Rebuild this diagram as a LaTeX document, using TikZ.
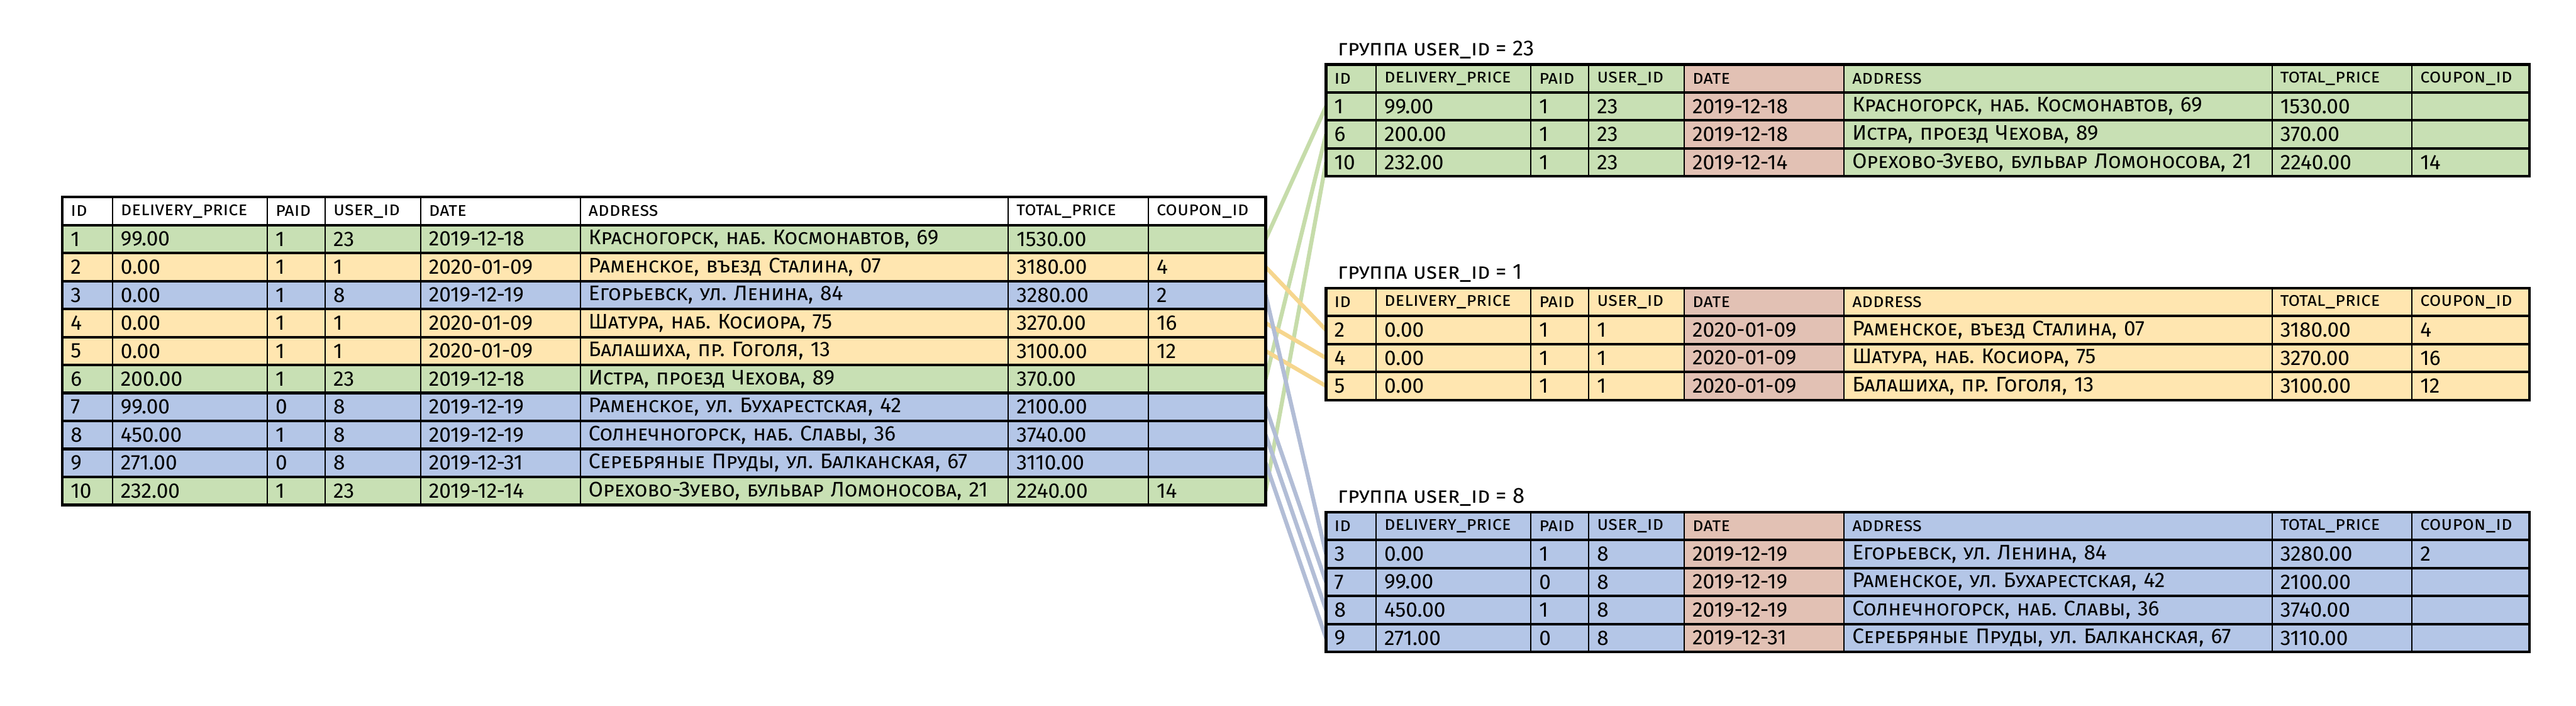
\documentclass[tikz,border=0pt]{standalone}
\usepackage{fontspec}
\setmainfont{Fira Sans}[Letters=SmallCaps]
\usetikzlibrary{positioning,backgrounds}
\frenchspacing

\definecolor{grn}{HTML}{C8E0B4}
\definecolor{ylw}{HTML}{FFE6B0}
\definecolor{blu}{HTML}{B4C6E7}
\definecolor{pnk}{HTML}{E2C1B4}
\definecolor{grnln}{HTML}{C6DCAA}
\definecolor{ylwln}{HTML}{F6D68E}
\definecolor{bluln}{HTML}{B2BDD6}

\newcommand{\headsize}{\fontsize{13pt}{15pt}\selectfont}

\tikzset{
  cell/.style={draw, line width=0.9pt, outer sep=0pt, inner xsep=0.2cm, inner ysep=0pt,
    minimum height=0.677cm, align=left, fill=\rowcolor, font=\fontsize{14.5pt}{16pt}\selectfont},
  rowline/.style={line width=1.8pt},
  frame/.style={line width=1.8pt},
  link/.style={line width=2.8pt},
  title/.style={anchor=west, inner sep=0pt, font=\fontsize{15pt}{17pt}\selectfont}
}

% one table row: name, top-left point, fill colour, then the 8 fields
\def\datecolor{\rowcolor}
\newcommand{\tabrow}[3]{\def\rowname{#1}\def\rowat{#2}\def\rowcolor{#3}\tabcells}
\newcommand{\tabcells}[8]{%
  \node[cell, text width=0.81cm, anchor=north west] (\rowname-1) at (\rowat) {#1};
  \node[cell, text width=3.35cm, right=0pt of \rowname-1] (\rowname-2) {#2};
  \node[cell, text width=1.00cm, right=0pt of \rowname-2] (\rowname-3) {#3};
  \node[cell, text width=1.91cm, right=0pt of \rowname-3] (\rowname-4) {#4};
  \node[cell, fill=\datecolor, text width=3.47cm, right=0pt of \rowname-4] (\rowname-5) {#5};
  \node[cell, text width=9.96cm, right=0pt of \rowname-5] (\rowname-6) {#6};
  \node[cell, text width=2.99cm, right=0pt of \rowname-6] (\rowname-7) {#7};
  \node[cell, text width=2.44cm, right=0pt of \rowname-7] (\rowname-8) {#8};
  \draw[rowline] (\rowname-1.north west) -- (\rowname-8.north east);
}
\newcommand{\headrow}[3]{\tabrow{#1}{#2}{#3}{\headsize id}{\headsize delivery\_price}{\headsize paid}{\headsize user\_id}{\headsize date}{\headsize address}{\headsize total\_price}{\headsize coupon\_id}}

\begin{document}
\begin{tikzpicture}
\useasboundingbox (0,0) rectangle (62.36,17.07);

% all orders
\headrow{m-0}{1.51,12.30}{white}
\tabrow{m-1}{m-0-1.south west}{grn}{1}{99.00}{1}{23}{2019-12-18}{Красногорск, наб. Космонавтов, 69}{1530.00}{}
\tabrow{m-2}{m-1-1.south west}{ylw}{2}{0.00}{1}{1}{2020-01-09}{Раменское, въезд Сталина, 07}{3180.00}{4}
\tabrow{m-3}{m-2-1.south west}{blu}{3}{0.00}{1}{8}{2019-12-19}{Егорьевск, ул. Ленина, 84}{3280.00}{2}
\tabrow{m-4}{m-3-1.south west}{ylw}{4}{0.00}{1}{1}{2020-01-09}{Шатура, наб. Косиора, 75}{3270.00}{16}
\tabrow{m-5}{m-4-1.south west}{ylw}{5}{0.00}{1}{1}{2020-01-09}{Балашиха, пр. Гоголя, 13}{3100.00}{12}
\tabrow{m-6}{m-5-1.south west}{grn}{6}{200.00}{1}{23}{2019-12-18}{Истра, проезд Чехова, 89}{370.00}{}
\tabrow{m-7}{m-6-1.south west}{blu}{7}{99.00}{0}{8}{2019-12-19}{Раменское, ул. Бухарестская, 42}{2100.00}{}
\tabrow{m-8}{m-7-1.south west}{blu}{8}{450.00}{1}{8}{2019-12-19}{Солнечногорск, наб. Славы, 36}{3740.00}{}
\tabrow{m-9}{m-8-1.south west}{blu}{9}{271.00}{0}{8}{2019-12-31}{Серебряные Пруды, ул. Балканская, 67}{3110.00}{}
\tabrow{m-10}{m-9-1.south west}{grn}{10}{232.00}{1}{23}{2019-12-14}{Орехово-Зуево, бульвар Ломоносова, 21}{2240.00}{14}
\draw[frame] (m-0-1.north west) rectangle (m-10-8.south east);

\begin{scope}
\def\datecolor{pnk}
% user_id = 23
\headrow{g23-0}{32.10,15.51}{grn}
\tabrow{g23-1}{g23-0-1.south west}{grn}{1}{99.00}{1}{23}{2019-12-18}{Красногорск, наб. Космонавтов, 69}{1530.00}{}
\tabrow{g23-6}{g23-1-1.south west}{grn}{6}{200.00}{1}{23}{2019-12-18}{Истра, проезд Чехова, 89}{370.00}{}
\tabrow{g23-10}{g23-6-1.south west}{grn}{10}{232.00}{1}{23}{2019-12-14}{Орехово-Зуево, бульвар Ломоносова, 21}{2240.00}{14}
\draw[frame] (g23-0-1.north west) rectangle (g23-10-8.south east);
\node[title] (t23) at ([shift={(0.29,0.36)}]g23-0-1.north west) {группа user\_id = 23};

% user_id = 1
\headrow{g1-0}{32.10,10.10}{ylw}
\tabrow{g1-2}{g1-0-1.south west}{ylw}{2}{0.00}{1}{1}{2020-01-09}{Раменское, въезд Сталина, 07}{3180.00}{4}
\tabrow{g1-4}{g1-2-1.south west}{ylw}{4}{0.00}{1}{1}{2020-01-09}{Шатура, наб. Косиора, 75}{3270.00}{16}
\tabrow{g1-5}{g1-4-1.south west}{ylw}{5}{0.00}{1}{1}{2020-01-09}{Балашиха, пр. Гоголя, 13}{3100.00}{12}
\draw[frame] (g1-0-1.north west) rectangle (g1-5-8.south east);
\node[title] (t1) at ([shift={(0.29,0.36)}]g1-0-1.north west) {группа user\_id = 1};

% user_id = 8
\headrow{g8-0}{32.10,4.68}{blu}
\tabrow{g8-3}{g8-0-1.south west}{blu}{3}{0.00}{1}{8}{2019-12-19}{Егорьевск, ул. Ленина, 84}{3280.00}{2}
\tabrow{g8-7}{g8-3-1.south west}{blu}{7}{99.00}{0}{8}{2019-12-19}{Раменское, ул. Бухарестская, 42}{2100.00}{}
\tabrow{g8-8}{g8-7-1.south west}{blu}{8}{450.00}{1}{8}{2019-12-19}{Солнечногорск, наб. Славы, 36}{3740.00}{}
\tabrow{g8-9}{g8-8-1.south west}{blu}{9}{271.00}{0}{8}{2019-12-31}{Серебряные Пруды, ул. Балканская, 67}{3110.00}{}
\draw[frame] (g8-0-1.north west) rectangle (g8-9-8.south east);
\node[title] (t8) at ([shift={(0.29,0.36)}]g8-0-1.north west) {группа user\_id = 8};
\end{scope}

% rows to their groups
\begin{scope}[on background layer]
\foreach \r in {1,6,10} {\draw[link, grnln] (m-\r-8.east) -- (g23-\r-1.west);}
\foreach \r in {2,4,5} {\draw[link, ylwln] (m-\r-8.east) -- (g1-\r-1.west);}
\foreach \r in {3,7,8,9} {\draw[link, bluln] (m-\r-8.east) -- (g8-\r-1.west);}
\end{scope}
\end{tikzpicture}
\end{document}
